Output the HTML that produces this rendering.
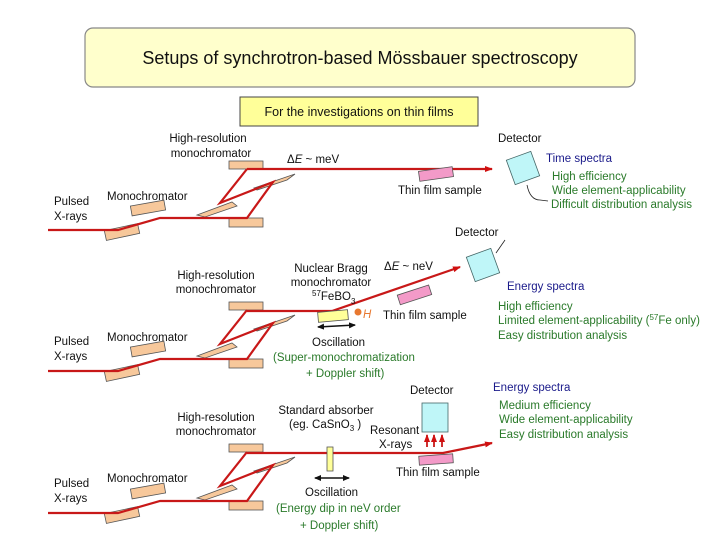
<!DOCTYPE html>
<html><head><meta charset="utf-8"><style>
body{margin:0;background:#fff}
svg{display:block}
text{font-family:"Liberation Sans",sans-serif;font-size:11.5px;fill:#111}
.g{fill:#2a7a2a}.b{fill:#1a1a8a}
</style></head><body>
<svg width="720" height="540" viewBox="0 0 720 540" xmlns="http://www.w3.org/2000/svg">
<defs>
<marker id="ar" markerWidth="8" markerHeight="6" refX="7" refY="3" orient="auto" markerUnits="userSpaceOnUse"><path d="M0,0 L8,3 L0,6 z" fill="#d01010"/></marker>
<marker id="bk" markerWidth="7" markerHeight="6" refX="6" refY="3" orient="auto-start-reverse" markerUnits="userSpaceOnUse"><path d="M0,0 L7,3 L0,6 z" fill="#111"/></marker>
<g id="optics">
 <rect x="105" y="-3" width="34" height="10" fill="#f7c89b" stroke="#555" stroke-width="0.8" transform="rotate(-12 122 2)"/>
 <rect x="131" y="-27" width="34" height="10" fill="#f7c89b" stroke="#555" stroke-width="0.8" transform="rotate(-10 148 -22)"/>
 <rect x="229" y="-12" width="34" height="9" fill="#f7c89b" stroke="#555" stroke-width="0.8"/>
 <rect x="229" y="-69" width="34" height="8" fill="#f7c89b" stroke="#555" stroke-width="0.8"/>
 <polygon points="197,-15 232,-28 237,-24 205,-13" fill="#f7c89b" stroke="#555" stroke-width="0.8"/>
 <polygon points="254,-42 295,-56 287,-50 257,-40" fill="#f7c89b" stroke="#555" stroke-width="0.8"/>
 <polyline points="48,0 118,0 160,-12 247,-12 273,-48 220,-27 247,-61" fill="none" stroke="#c81818" stroke-width="2.2"/>
</g>
</defs>
<rect x="85" y="28" width="550" height="59" rx="8" fill="#ffffcc" stroke="#888" stroke-width="1.2"/>
<text x="360" y="64" text-anchor="middle" style="font-size:18px">Setups of synchrotron-based Mössbauer spectroscopy</text>
<rect x="240" y="97" width="238" height="29" fill="#ffff99" stroke="#444" stroke-width="1"/>
<text x="359" y="116" text-anchor="middle" style="font-size:12.5px">For the investigations on thin films</text>

<!-- Section 1 -->
<use href="#optics" transform="translate(0,230)"/>
<line x1="247" y1="169" x2="492" y2="169" stroke="#c81818" stroke-width="2.2" marker-end="url(#ar)"/>
<rect x="419" y="169" width="34" height="10" fill="#f39ac8" stroke="#555" stroke-width="0.8" transform="rotate(-8 436 174)"/>
<rect x="510" y="155" width="26" height="26" fill="#bff6f8" stroke="#466" stroke-width="0.8" transform="rotate(-20 523 168)"/>
<path d="M527,185 Q530,200 540,200 L548,201" fill="none" stroke="#222" stroke-width="0.8"/>
<text x="208" y="142" text-anchor="middle">High-resolution</text>
<text x="211" y="157" text-anchor="middle">monochromator</text>
<text x="287" y="163">Δ<tspan font-style="italic">E</tspan> ~ meV</text>
<text x="398" y="194">Thin film sample</text>
<text x="498" y="142">Detector</text>
<text x="54" y="205">Pulsed</text><text x="54" y="220">X-rays</text>
<text x="107" y="200">Monochromator</text>
<text x="546" y="162" class="b">Time spectra</text>
<text x="552" y="180" class="g">High efficiency</text>
<text x="552" y="194" class="g">Wide element-applicability</text>
<text x="551" y="208" class="g">Difficult distribution analysis</text>

<!-- Section 2 -->
<use href="#optics" transform="translate(0,371)"/>
<polyline points="247,311 332,311 460,267" fill="none" stroke="#c81818" stroke-width="2.2" marker-end="url(#ar)"/>
<rect x="318" y="311" width="30" height="10" fill="#ffff99" stroke="#555" stroke-width="0.8" transform="rotate(-5 333 316)"/>
<circle cx="358" cy="312" r="3.5" fill="#e87830"/>
<text x="363" y="318" style="fill:#e87830;font-style:italic">H</text>
<rect x="398" y="290" width="33" height="10" fill="#f39ac8" stroke="#555" stroke-width="0.8" transform="rotate(-18 414 295)"/>
<rect x="470" y="252" width="26" height="26" fill="#bff6f8" stroke="#466" stroke-width="0.8" transform="rotate(-20 483 265)"/>
<line x1="496" y1="253" x2="505" y2="240" stroke="#222" stroke-width="0.8"/>
<line x1="318" y1="327" x2="355" y2="325" stroke="#111" stroke-width="1.5" marker-start="url(#bk)" marker-end="url(#bk)"/>
<text x="216" y="279" text-anchor="middle">High-resolution</text>
<text x="216" y="293" text-anchor="middle">monochromator</text>
<text x="331" y="272" text-anchor="middle">Nuclear Bragg</text>
<text x="331" y="286" text-anchor="middle">monochromator</text>
<text x="312" y="300"><tspan style="font-size:8px" dy="-4">57</tspan><tspan dy="4">FeBO</tspan><tspan style="font-size:8px" dy="4">3</tspan></text>
<text x="384" y="270">Δ<tspan font-style="italic">E</tspan> ~ neV</text>
<text x="383" y="319">Thin film sample</text>
<text x="455" y="236">Detector</text>
<text x="312" y="346">Oscillation</text>
<text x="273" y="361" class="g">(Super-monochromatization</text>
<text x="306" y="377" class="g">+ Doppler shift)</text>
<text x="54" y="345">Pulsed</text><text x="54" y="360">X-rays</text>
<text x="107" y="341">Monochromator</text>
<text x="507" y="290" class="b">Energy spectra</text>
<text x="498" y="310" class="g">High efficiency</text>
<text x="498" y="324" class="g">Limited element-applicability  (<tspan style="font-size:8px" dy="-4">57</tspan><tspan dy="4">Fe only)</tspan></text>
<text x="498" y="339" class="g">Easy distribution analysis</text>

<!-- Section 3 -->
<use href="#optics" transform="translate(0,513)"/>
<polyline points="247,453 443,453 492,443" fill="none" stroke="#c81818" stroke-width="2.2" marker-end="url(#ar)"/>
<rect x="327" y="447" width="6" height="24" fill="#ffff99" stroke="#555" stroke-width="0.8"/>
<rect x="419" y="455" width="34" height="9" fill="#f39ac8" stroke="#555" stroke-width="0.8" transform="rotate(-4 436 459)"/>
<rect x="422" y="403" width="26" height="29" fill="#bff6f8" stroke="#466" stroke-width="0.8"/>
<line x1="427" y1="447" x2="427" y2="435" stroke="#c81818" stroke-width="1.8" marker-end="url(#ar)"/>
<line x1="434" y1="447" x2="434" y2="435" stroke="#c81818" stroke-width="1.8" marker-end="url(#ar)"/>
<line x1="442" y1="447" x2="442" y2="435" stroke="#c81818" stroke-width="1.8" marker-end="url(#ar)"/>
<line x1="315" y1="478" x2="349" y2="478" stroke="#111" stroke-width="1.5" marker-start="url(#bk)" marker-end="url(#bk)"/>
<text x="216" y="421" text-anchor="middle">High-resolution</text>
<text x="216" y="435" text-anchor="middle">monochromator</text>
<text x="326" y="414" text-anchor="middle">Standard absorber</text>
<text x="289" y="428">(eg. CaSnO<tspan style="font-size:8px" dy="3">3</tspan><tspan dy="-3"> )</tspan></text>
<text x="370" y="434">Resonant</text>
<text x="379" y="448">X-rays</text>
<text x="410" y="394">Detector</text>
<text x="396" y="476">Thin film sample</text>
<text x="305" y="496">Oscillation</text>
<text x="276" y="512" class="g">(Energy dip in neV order</text>
<text x="300" y="529" class="g">+ Doppler shift)</text>
<text x="54" y="487">Pulsed</text><text x="54" y="502">X-rays</text>
<text x="107" y="482">Monochromator</text>
<text x="493" y="391" class="b">Energy spectra</text>
<text x="499" y="409" class="g">Medium efficiency</text>
<text x="499" y="423" class="g">Wide element-applicability</text>
<text x="499" y="438" class="g">Easy distribution analysis</text>
</svg>
</body></html>
